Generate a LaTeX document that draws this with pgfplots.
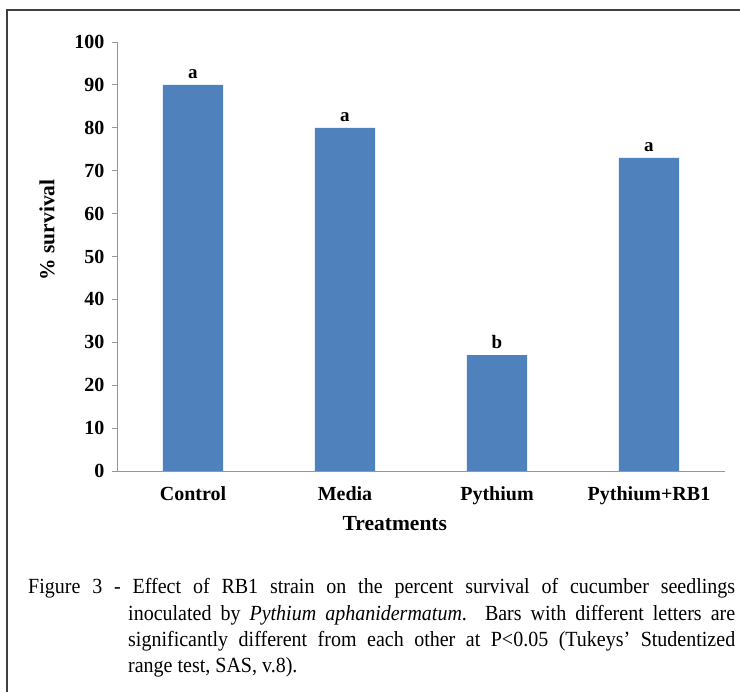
\documentclass[border=0pt]{standalone}
\usepackage{fontspec}
\setmainfont{Liberation Serif}
\usepackage{graphicx}
\usepackage{pgfplots}
\usepackage{pgfplotstable}
\pgfplotsset{compat=1.18}
\definecolor{barblue}{HTML}{4F81BD}
\definecolor{axgray}{HTML}{969696}
\pgfplotstableread{
x y lab
0 90 a
1 80 a
2 27 b
3 73 a
}\survival
\begin{document}
\begin{tikzpicture}[x=1pt,y=1pt]
\useasboundingbox (0,0) rectangle (740,-692);
\fill[white] (0,0) rectangle (740,-692);
\draw[line width=1.6pt, color=black!75] (7,-692) -- (7,-10) -- (740,-10);
\begin{axis}[
  at={(117pt,-471pt)}, anchor=south west,
  scale only axis, width=608pt, height=429pt,
  xmin=-0.5, xmax=3.5, ymin=0, ymax=100,
  axis lines*=left,
  axis line style={draw=axgray, line width=0.8pt},
  tick style={draw=axgray, line width=0.8pt},
  tick align=outside, major tick length=5pt,
  xtick={0,1,2,3},
  xticklabels={Control,Media,Pythium,Pythium+RB1},
  major x tick style={draw=none},
  extra x ticks={0.5,1.5,2.5,3.5},
  extra x tick labels={},
  extra x tick style={tick style={draw=axgray, line width=0.8pt}, major tick length=5pt},
  ytick={0,10,...,100},
  /pgf/number format/assume math mode=true,
  ticklabel style={font=\fontsize{20}{20}\selectfont\bfseries, text=black},
  yticklabel style={xshift=-4pt},
  xticklabel style={yshift=-7pt},
  xlabel={Treatments},
  ylabel={\% survival},
  label style={font=\fontsize{21.5}{21.5}\selectfont\bfseries},
  xlabel style={at={(axis description cs:0.457,-0.1235)}, anchor=center},
  ylabel style={at={(axis description cs:-0.115,0.562)}, anchor=center, rotate=0},
  clip=false,
]
\addplot[ybar, bar width=0.395, fill=barblue, draw=none,
  point meta=explicit symbolic,
  nodes near coords,
  nodes near coords style={font=\fontsize{19}{19}\selectfont\bfseries, text=black, anchor=south, yshift=3pt}]
  table[x=x, y=y, meta=lab] {\survival};
\end{axis}
\node[anchor=base west, inner sep=0pt] at (28,-594) {\scalebox{1}[1.08]{\parbox[t]{707pt}{\fontsize{20}{24.35}\selectfont\hangindent=100pt\hangafter=1
Figure 3 - Effect of RB1 strain on the percent survival of cucumber seedlings\linebreak
inoculated by \textit{Pythium aphanidermatum}.\ \ Bars with different letters are\linebreak
significantly different from each other at P<0.05 (Tukeys' Studentized\linebreak
range test, SAS, v.8).}}};
\end{tikzpicture}
\end{document}
